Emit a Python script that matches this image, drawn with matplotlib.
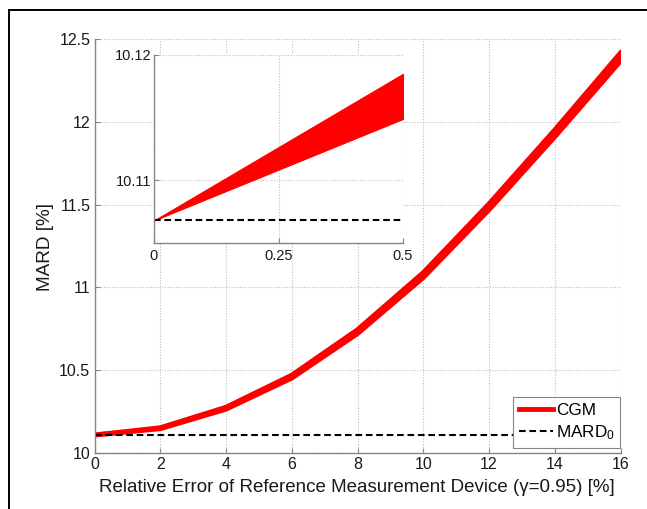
import matplotlib
matplotlib.use("Agg")
import matplotlib.pyplot as plt
from matplotlib.lines import Line2D
from matplotlib.ticker import FormatStrFormatter, FuncFormatter

plt.rcParams['font.family'] = ['Liberation Sans', 'DejaVu Sans']
plt.rcParams['mathtext.fontset'] = 'custom'
plt.rcParams['mathtext.rm'] = 'Liberation Sans'
plt.rcParams['mathtext.it'] = 'Liberation Sans:italic'

# ---- data ----
x_main = [0, 2, 4, 6, 8, 10, 12, 14, 16]
cgm_upper = [10.107, 10.151, 10.275, 10.469, 10.744, 11.089, 11.505, 11.952, 12.418]
cgm_lower = [10.107, 10.145, 10.263, 10.451, 10.720, 11.059, 11.469, 11.910, 12.368]
mard0 = 10.1068

x_inset = [0, 0.5]
inset_upper = [10.1068, 10.1185]
inset_lower = [10.1068, 10.1149]

main_xticks = [0, 2, 4, 6, 8, 10, 12, 14, 16]
main_yticks = [10, 10.5, 11, 11.5, 12, 12.5]
inset_xticks = [0, 0.25, 0.5]
inset_yticks = [10.11, 10.12]

RED = '#ff0000'
SPINE = '#858585'
GRID = '#bdbdbd'
TXT = '#1a1a1a'

W, H = 647, 509
fig = plt.figure(figsize=(W / 100, H / 100), dpi=100)
fig.patch.set_facecolor('white')

def style_axes(ax, fs):
    for s in ['top', 'right']:
        ax.spines[s].set_visible(False)
    for s in ['left', 'bottom']:
        ax.spines[s].set_color(SPINE)
        ax.spines[s].set_linewidth(1.0)
    ax.tick_params(direction='in', length=3.5, width=0.8, color=SPINE,
                   labelcolor=TXT, labelsize=fs, top=False, right=False)
    ax.grid(True, linestyle=(0, (1, 1.5)), color=GRID, linewidth=0.8)
    ax.set_axisbelow(True)

# main axes
ax0, ax1 = 94.5, 620.5
ay0, ay1 = 39.3, 452.7
ax = fig.add_axes([ax0 / W, 1 - ay1 / H, (ax1 - ax0) / W, (ay1 - ay0) / H])
style_axes(ax, 11.5)
ax.fill_between(x_main, cgm_lower, cgm_upper, color=RED, linewidth=0)
ax.plot(x_main, cgm_upper, color=RED, lw=3.5, solid_capstyle='projecting', solid_joinstyle='miter')
ax.plot(x_main, cgm_lower, color=RED, lw=3.5, solid_capstyle='projecting', solid_joinstyle='miter')
ax.plot([x_main[0], x_main[-1]], [mard0, mard0], color='black', lw=1.5, linestyle=(0, (3.2, 1.8)))
ax.set_xlim(0, 16)
ax.set_ylim(10, 12.5)
ax.set_xticks(main_xticks)
ax.set_yticks(main_yticks)
ax.yaxis.set_major_formatter(FuncFormatter(lambda v, p: f"{v:g}"))
ax.tick_params(axis='x', pad=3)
ax.tick_params(axis='y', pad=3)
ax.set_xlabel('Relative Error of Reference Measurement Device (γ=0.95) [%]', fontsize=13.5, color=TXT, va='center')
ax.set_ylabel('MARD [%]', fontsize=13.7, color=TXT, va='center')
ax.xaxis.set_label_coords(((356.5 - ax0) / (ax1 - ax0)), -(487 - ay1) / (ay1 - ay0))
ax.yaxis.set_label_coords(-(ax0 - 45.5) / (ax1 - ax0), 0.5 - (246.7 - (ay0 + ay1) / 2) / (ay1 - ay0))

leg_handles = [Line2D([0], [0], color=RED, lw=3.5),
               Line2D([0], [0], color='black', lw=1.5, linestyle=(0, (3.2, 1.8)))]
leg = ax.legend(leg_handles, ['CGM', 'MARD$_0$'], loc='lower right',
                bbox_to_anchor=(1.0, 0.012), borderaxespad=0, fancybox=False,
                framealpha=1, edgecolor=SPINE, fontsize=12.3, handlelength=2.0,
                handletextpad=0.15, borderpad=0.35, labelspacing=0.3)
leg.get_frame().set_linewidth(0.8)

# inset axes
axi = fig.add_axes([154 / W, 1 - 243 / H, (403 - 154) / W, (243 - 55) / H])
axi.set_facecolor('white')
style_axes(axi, 10.5)
axi.fill_between(x_inset, inset_lower, inset_upper, color=RED, linewidth=0.8, edgecolor=RED)
axi.plot([x_inset[0], x_inset[-1]], [mard0, mard0], color='black', lw=1.5, linestyle=(0, (3.2, 1.8)))
axi.set_xlim(0, 0.5)
axi.set_ylim(10.105, 10.12)
axi.set_xticks(inset_xticks)
axi.set_yticks(inset_yticks)
axi.xaxis.set_major_formatter(FuncFormatter(lambda v, p: f"{v:g}"))
axi.yaxis.set_major_formatter(FormatStrFormatter('%.2f'))
axi.tick_params(axis='x', pad=4)
axi.tick_params(axis='y', pad=2)

# partial frame (top and left border of the picture)
fig.add_artist(Line2D([8.5 / W, 8.5 / W], [0, 1 - 9.5 / H], transform=fig.transFigure, color='black', lw=1.4))
fig.add_artist(Line2D([8.5 / W, 1], [1 - 9.5 / H, 1 - 9.5 / H], transform=fig.transFigure, color='black', lw=1.4))

fig.savefig('out.png', dpi=100, facecolor='white')
